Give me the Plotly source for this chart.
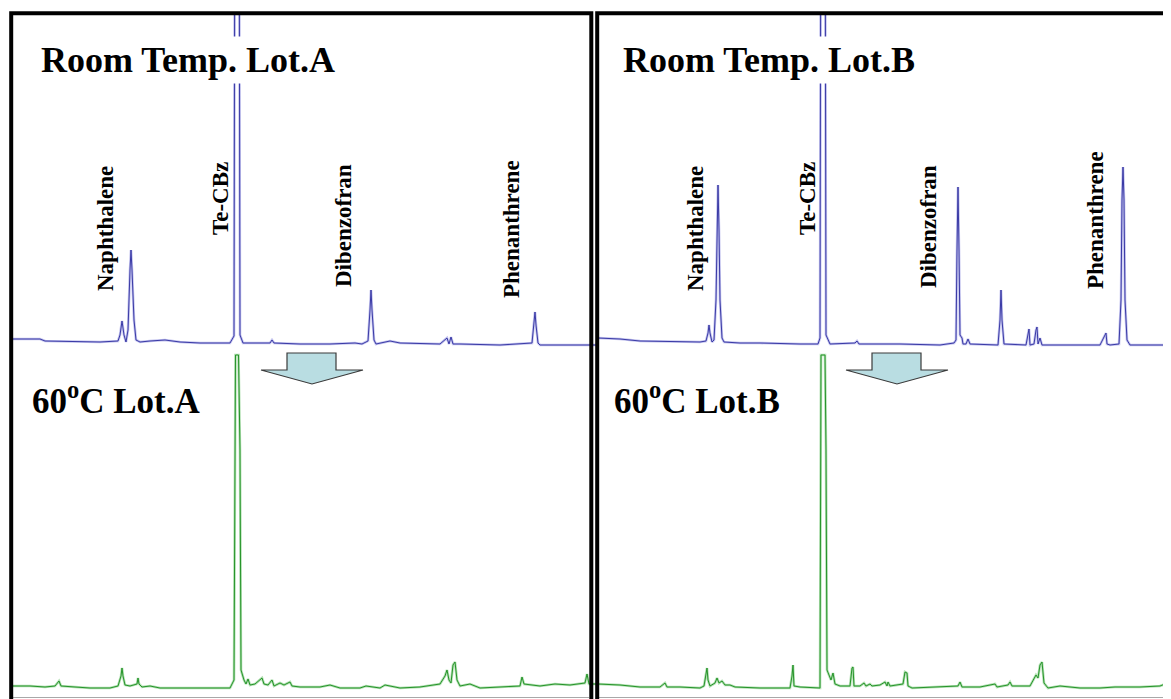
import plotly.graph_objects as go

# ---------------- data (retention time [min], abundance [a.u.]) ----------------
# Room temperature, Lot A (blue)
rt_blue_A = [3.00, 4.12, 4.32, 6.52, 7.24, 7.32, 7.40, 7.48, 7.56, 7.64,
             7.72, 7.76, 7.80, 7.88, 7.96, 8.12, 8.52, 9.12, 9.72, 10.52,
             11.72, 11.88, 11.92, 12.08, 12.12, 12.24, 13.32, 13.40, 13.48,
             14.52, 15.72, 16.72, 17.00, 17.24, 17.32, 17.36, 17.40, 17.48, 17.56,
             18.12, 18.52, 20.12, 20.40, 20.48, 20.56, 20.64, 20.92, 22.52, 23.80,
             23.88, 23.92, 23.96, 24.04, 24.12, 26.40]
ab_blue_A = [21, 21, 19, 18, 19, 25, 39, 25, 18, 30,
             90, 110, 90, 40, 20, 18, 19, 20, 18, 17,
             17, 24, 560, 560, 25, 17, 17, 20, 17,
             16, 16, 17, 16, 19, 50, 70, 50, 20, 16,
             19, 17, 16, 22, 16, 23, 16, 16, 15, 17,
             35, 48, 35, 17, 15, 15]

# Room temperature, Lot B (blue)
rt_blue_B = [3.00, 3.88, 4.68, 6.28, 7.08, 7.32, 7.40, 7.44, 7.48, 7.56,
             7.64, 7.72, 7.76, 7.80, 7.84, 7.88, 7.96, 8.04, 8.68, 9.48,
             11.08, 11.80, 11.88, 11.92, 12.08, 12.12, 12.28, 13.28, 13.36,
             13.44, 15.08, 16.68, 17.24, 17.32, 17.36, 17.40, 17.44, 17.48, 17.56,
             17.60, 17.72, 17.80, 17.88, 18.68, 19.00, 19.08, 19.12, 19.16, 19.24,
             20.12, 20.20, 20.24, 20.28, 20.44, 20.52, 20.56, 20.60, 20.68, 20.76,
             23.08, 23.28, 23.32, 23.36, 23.48, 23.84, 23.92, 23.96, 24.00, 24.04,
             24.08, 24.16, 24.28, 25.92]
ab_blue_B = [22, 21, 19, 18, 18, 19, 27, 35, 27, 18,
             20, 60, 130, 175, 130, 60, 22, 18, 17, 17,
             16, 16, 22, 560, 560, 25, 16, 17, 19,
             16, 16, 15, 17, 20, 110, 173, 110, 25, 22,
             16, 16, 21, 16, 15, 15, 40, 70, 40, 16,
             15, 28, 31, 15, 16, 30, 33, 16, 22, 15,
             15, 25, 27, 16, 15, 16, 60, 160, 193, 160,
             60, 20, 15, 15]

# 60 degC, Lot A (green)
rt_green_A = [3.00, 3.72, 4.32, 4.72, 4.88, 4.96, 5.52, 6.12, 6.92, 7.24,
              7.36, 7.40, 7.44, 7.52, 7.72, 8.00, 8.04, 8.08, 8.20, 8.52,
              8.92, 10.52, 11.72, 11.88, 11.94, 12.06, 12.12, 12.16, 12.28,
              12.36, 12.44, 12.52, 12.72, 13.00, 13.08, 13.24, 13.40, 13.48, 13.72,
              13.88, 14.12, 14.20, 14.52, 15.32, 15.72, 16.12, 16.92, 17.16, 17.72,
              17.92, 18.52, 19.32, 20.12, 20.32, 20.40, 20.48, 20.56, 20.64, 20.72,
              20.80, 20.92, 21.32, 21.72, 22.52, 23.32, 23.40, 23.48, 24.12, 24.72,
              25.32, 25.92, 26.00, 26.08, 26.40]
ab_green_A = [11, 11, 10, 11, 16, 11, 10, 9, 9, 11,
              21, 29, 21, 12, 11, 13, 19, 13, 10, 11,
              9, 9, 9, 17, 342, 342, 247, 27, 17,
              13, 18, 12, 13, 19, 13, 12, 17, 11, 14,
              12, 15, 11, 10, 10, 12, 9, 9, 11, 9,
              12, 9, 10, 13, 21, 27, 17, 14, 32, 35,
              17, 11, 13, 9, 10, 11, 20, 13, 11, 13,
              12, 14, 23, 13, 13]

# 60 degC, Lot B (green)
rt_green_B = [3.00, 3.88, 4.68, 5.48, 5.68, 5.76, 6.28, 7.08, 7.24, 7.32,
              7.36, 7.40, 7.48, 7.68, 7.76, 7.84, 7.96, 8.08, 8.28, 8.48,
              9.48, 10.68, 10.76, 10.80, 10.84, 11.08, 11.88, 11.92,
              12.08, 12.12, 12.16, 12.32, 12.40, 12.48, 12.68, 13.08, 13.16, 13.20,
              13.24, 13.48, 13.64, 13.72, 13.88, 13.96, 14.28, 14.48, 14.56, 14.60,
              14.68, 15.20, 15.28, 15.36, 15.40, 15.56, 16.68, 17.40, 17.48, 17.56,
              18.28, 18.88, 18.96, 19.40, 19.48, 19.56, 20.28, 20.52, 20.60, 20.68,
              20.76, 20.84, 21.00, 21.48, 22.28, 23.08, 23.68, 24.68, 25.48, 25.68,
              25.92]
ab_green_B = [13, 12, 10, 10, 14, 10, 10, 9, 11, 26,
              29, 17, 11, 14, 19, 14, 16, 12, 12, 10,
              9, 9, 21, 32, 11, 10, 9, 342,
              342, 247, 27, 17, 24, 13, 11, 11, 29, 30,
              11, 11, 14, 11, 13, 11, 12, 15, 11, 15,
              11, 13, 25, 24, 11, 9, 10, 11, 15, 10,
              10, 13, 10, 12, 15, 11, 11, 22, 19, 32,
              35, 14, 9, 11, 9, 9, 10, 10, 11, 13,
              11]

panel_titles_top = ["Room Temp. Lot.A", "Room Temp. Lot.B"]
panel_titles_bottom = ["60<sup>o</sup>C Lot.A", "60<sup>o</sup>C Lot.B"]
compounds = ["Naphthalene", "Te-CBz", "Dibenzofran", "Phenanthrene"]

# ---------------- layout helpers ----------------
# the page body has an 8 px default margin, so the figure starts at (8, 8)
OFF = 8
W, H = 1171 - OFF, 699 - OFF


def fx(px):
    return (px - OFF) / W


def fy(py):
    return 1 - (py - OFF) / H


BLUE_CORE, BLUE_HALO = "#3a3aa6", "#c3c3ee"
GREEN_CORE, GREEN_HALO = "#26942a", "#b3e0b3"

fig = go.Figure()


def add_trace(x, y, xa, ya, core, halo):
    fig.add_trace(go.Scatter(x=x, y=y, xaxis=xa, yaxis=ya, mode="lines",
                             line=dict(color=halo, width=2.6), hoverinfo="skip",
                             showlegend=False))
    fig.add_trace(go.Scatter(x=x, y=y, xaxis=xa, yaxis=ya, mode="lines",
                             line=dict(color=core, width=1.0), showlegend=False))


add_trace(rt_blue_A, ab_blue_A, "x", "y", BLUE_CORE, BLUE_HALO)
add_trace(rt_blue_B, ab_blue_B, "x2", "y", BLUE_CORE, BLUE_HALO)
add_trace(rt_green_A, ab_green_A, "x", "y2", GREEN_CORE, GREEN_HALO)
add_trace(rt_green_B, ab_green_B, "x2", "y2", GREEN_CORE, GREEN_HALO)

hidden = dict(visible=False, showgrid=False, zeroline=False, fixedrange=True)
fig.update_layout(
    width=W, height=H,
    margin=dict(l=0, r=0, t=0, b=0),
    paper_bgcolor="white", plot_bgcolor="white",
    xaxis=dict(domain=[fx(12), fx(597)], range=[3.0, 26.40], **hidden),
    xaxis2=dict(domain=[fx(598), 1.0], range=[3.0, 25.92], **hidden),
    yaxis=dict(domain=[fy(360), fy(14)], range=[0, 346], anchor="x", **hidden),
    yaxis2=dict(domain=[fy(697), fy(353)], range=[0, 344], anchor="x", **hidden),
)

SERIF = "Liberation Serif, Times New Roman, serif"
annotations = []
# panel titles
for i, (lx_top, lx_bot) in enumerate([(37, 30), (619, 612)]):
    annotations.append(dict(text=f"<b>{panel_titles_top[i]}</b>", x=fx(lx_top), y=fy(60),
                            xref="paper", yref="paper", xanchor="left", yanchor="middle",
                            showarrow=False, bgcolor="white", borderpad=3,
                            font=dict(family=SERIF, size=36, color="black")))
    annotations.append(dict(text=f"<b>{panel_titles_bottom[i]}</b>", x=fx(lx_bot), y=fy(398),
                            xref="paper", yref="paper", xanchor="left", yanchor="middle",
                            showarrow=False,
                            font=dict(family=SERIF, size=35, color="black")))

# rotated compound labels (centre px positions)
label_pos = [
    [(105, 229), (220, 199), (343, 226), (511, 229)],
    [(695, 228), (807, 199), (928, 226), (1095, 220)],
]
for p in range(2):
    for name, (cx, cy) in zip(compounds, label_pos[p]):
        annotations.append(dict(text=f"<b>{name}</b>", x=fx(cx), y=fy(cy),
                                xref="paper", yref="paper", xanchor="center",
                                yanchor="middle", textangle=-90, showarrow=False,
                                font=dict(family=SERIF, size=23, color="black")))
fig.update_layout(annotations=annotations)

shapes = []
# faint baseline of the lower chromatograms
for x0, x1 in ((13, 589), (599, 1171)):
    shapes.append(dict(type="line", xref="paper", yref="paper",
                       x0=fx(x0), x1=fx(x1), y0=fy(697.5), y1=fy(697.5),
                       line=dict(color="#a8a8a8", width=1), layer="below"))
# panel frames
shapes.append(dict(type="rect", xref="paper", yref="paper",
                   x0=fx(11.2), x1=fx(591.3), y0=fy(730), y1=fy(13.3),
                   line=dict(color="black", width=4), layer="above"))
shapes.append(dict(type="rect", xref="paper", yref="paper",
                   x0=fx(597.2), x1=fx(1180), y0=fy(730), y1=fy(13.3),
                   line=dict(color="black", width=4), layer="above"))

# down arrows
for off in (0, 585):
    pts = [(287, 353), (336, 353), (336, 370), (363, 370), (312, 384),
           (261, 370), (287, 370)]
    path = "M " + " L ".join(f"{fx(x + off):.5f},{fy(y):.5f}" for x, y in pts) + " Z"
    shapes.append(dict(type="path", xref="paper", yref="paper", path=path,
                       fillcolor="#b9dde2", line=dict(color="#3a3a3a", width=1.2),
                       layer="above"))
fig.update_layout(shapes=shapes)

fig.write_html("out.html")
